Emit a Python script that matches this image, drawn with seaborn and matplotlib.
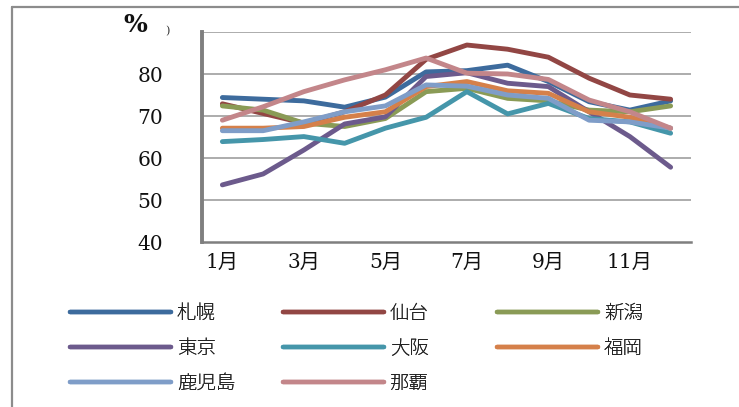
import matplotlib
matplotlib.use("Agg")
import matplotlib.pyplot as plt
from matplotlib.lines import Line2D
import seaborn as sns
import pandas as pd

# Monthly mean relative humidity (%) by city
months = ["1月", "2月", "3月", "4月", "5月", "6月", "7月", "8月", "9月", "10月", "11月", "12月"]
cities = ["札幌", "仙台", "新潟", "東京", "大阪", "福岡", "鹿児島", "那覇"]

sapporo   = [74.4, 74.0, 73.6, 72.1, 74.5, 80.5, 80.8, 82.1, 78.2, 73.4, 71.4, 73.6]
sendai    = [72.9, 70.6, 68.3, 71.0, 75.0, 83.5, 86.9, 85.9, 84.0, 79.0, 75.0, 74.0]
niigata   = [72.4, 71.4, 68.3, 67.5, 69.4, 75.8, 76.6, 74.2, 73.6, 71.4, 71.0, 72.4]
tokyo     = [53.6, 56.2, 61.9, 68.1, 69.8, 79.4, 80.3, 77.8, 77.0, 71.0, 65.1, 57.8]
osaka     = [63.9, 64.4, 65.1, 63.5, 67.1, 69.7, 75.8, 70.5, 73.0, 69.4, 68.6, 65.9]
fukuoka   = [67.1, 67.1, 67.5, 69.7, 71.0, 77.0, 78.2, 76.0, 75.4, 71.0, 69.7, 67.1]
kagoshima = [66.5, 66.5, 68.6, 71.0, 72.4, 77.4, 77.1, 75.0, 74.2, 69.0, 68.6, 67.1]
naha      = [69.0, 72.2, 75.8, 78.6, 81.0, 83.8, 80.2, 80.0, 78.7, 73.8, 71.0, 67.1]

series = [sapporo, sendai, niigata, tokyo, osaka, fukuoka, kagoshima, naha]
colors = ["#3D6B9D", "#924644", "#8A9B56", "#6C5A8C", "#4596AA", "#D5804A", "#7F9DC8", "#C3868A"]

y_ticks = [40, 50, 60, 70, 80, 90]
y_tick_labels = ["40", "50", "60", "70", "80", ""]
x_tick_pos = [0, 2, 4, 6, 8, 10]

rows = []
for city, vals in zip(cities, series):
    for i, v in enumerate(vals):
        rows.append({"month": i, "city": city, "humidity": v})
df = pd.DataFrame(rows)

sns.set_theme(style="white")
plt.rcParams["font.family"] = ["DejaVu Serif", "Noto Sans CJK JP"]

fig = plt.figure(figsize=(7.39, 4.07), dpi=100)
ax = fig.add_axes([202 / 739, 1 - 242 / 407, (691 - 202) / 739, (242 - 32) / 407])

sns.lineplot(data=df, x="month", y="humidity", hue="city", hue_order=cities,
             palette=colors, linewidth=3.5, legend=False, sort=False, ax=ax)
for ln in ax.get_lines():
    ln.set_solid_capstyle("round")
    ln.set_solid_joinstyle("round")

ax.set_xlim(-0.5, 11.5)
ax.set_ylim(40, 90)
ax.set_yticks(y_ticks)
ax.set_yticklabels(y_tick_labels)
ax.set_xticks(x_tick_pos)
ax.set_xticklabels([months[i] for i in x_tick_pos])
ax.set_xlabel("")
ax.set_ylabel("")

tick_font = ["DejaVu Serif", "Noto Sans CJK JP"]
ax.tick_params(axis="x", length=0, pad=8, labelsize=14.5, labelcolor="#111111")
ax.tick_params(axis="y", length=0, pad=37, labelsize=14.5, labelcolor="#111111")
for lbl in ax.get_xticklabels() + ax.get_yticklabels():
    lbl.set_family(tick_font)
for lbl in ax.get_yticklabels():
    lbl.set_ha("center")

# horizontal gridlines
for yv in y_ticks[1:]:
    ax.axhline(yv, color="#A6A6A6", linewidth=1.3, zorder=0)

for side in ["top", "right"]:
    ax.spines[side].set_visible(False)
ax.spines["left"].set_color("#7F7F7F")
ax.spines["left"].set_linewidth(2.8)
ax.spines["bottom"].set_color("#7F7F7F")
ax.spines["bottom"].set_linewidth(1.8)

# unit label
fig.text(135 / 739, 1 - 25 / 407, "%", fontsize=18, family=tick_font,
         ha="center", va="center", color="#111111", weight="bold")
fig.text(167 / 739, 1 - 31 / 407, ")", fontsize=8, family=tick_font,
         ha="center", va="center", color="#333333")

# legend: three fixed-width columns, filled row by row
handles = ax.get_lines()[:len(cities)]
col_x = [70, 283, 497]
for c in range(3):
    idx = list(range(c, len(cities), 3))
    leg = fig.legend([handles[i] for i in idx], [cities[i] for i in idx],
                     loc="upper left", bbox_to_anchor=(col_x[c] / 739, 1 - 303 / 407),
                     frameon=False, ncol=1, borderpad=0, borderaxespad=0,
                     handlelength=5.2, handletextpad=0.3, labelspacing=0.72,
                     prop={"family": ["Noto Sans CJK JP"], "size": 14, "weight": 300})
    for t in leg.get_texts():
        t.set_color("#222222")
    for h in leg.get_lines():
        h.set_linewidth(3.2)
        h.set_solid_capstyle("round")
    fig.add_artist(leg)

# outer frame on the left and top edges
fig.add_artist(Line2D([12 / 739, 12 / 739], [0, 1 - 7 / 407], color="#8C8C8C",
                      linewidth=1.6, transform=fig.transFigure))
fig.add_artist(Line2D([12 / 739, 1], [1 - 7 / 407, 1 - 7 / 407], color="#8C8C8C",
                      linewidth=1.6, transform=fig.transFigure))

fig.savefig("out.png", dpi=100)
